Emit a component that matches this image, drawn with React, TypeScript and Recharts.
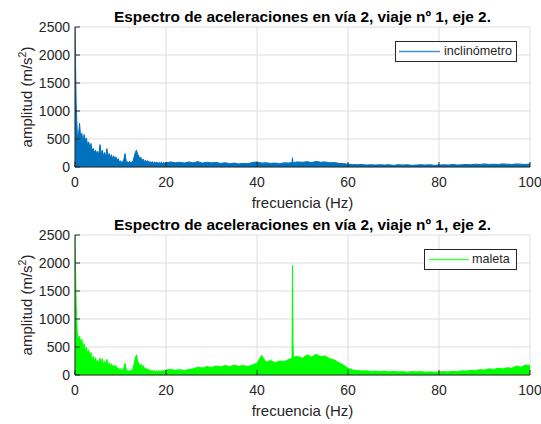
import React from 'react';
import { ComposedChart, Area, XAxis, YAxis, CartesianGrid, Label } from 'recharts';

const FONT = '"Liberation Sans", Arial, Helvetica, sans-serif';
const AXIS = '#262626';
const GRID = '#dedede';
const BLUE = '#0072BD';
const GREEN = '#00FF00';

const titleText = 'Espectro de aceleraciones en vía 2, viaje nº 1, eje 2.';
const xLabelText = 'frecuencia (Hz)';
const yLabelText = 'amplitud (m/s';
const yLabelSup = '2';
const xTicks = [0, 20, 40, 60, 80, 100];
const yTicks = [0, 500, 1000, 1500, 2000, 2500];

const freq = [
  0, 0.25, 0.5, 0.75, 1, 1.25, 1.5, 1.75, 2, 2.25,
  2.5, 2.75, 3, 3.25, 3.5, 3.75, 4, 4.25, 4.5, 4.75,
  5, 5.25, 5.5, 5.75, 6, 6.25, 6.5, 6.75, 7, 7.25,
  7.5, 7.75, 8, 8.25, 8.5, 8.75, 9, 9.25, 9.5, 9.75,
  10, 10.25, 10.5, 10.75, 11, 11.25, 11.5, 11.75, 12, 12.25,
  12.5, 12.75, 13, 13.25, 13.5, 13.75, 14, 14.25, 14.5, 14.75,
  15, 15.25, 15.5, 15.75, 16, 16.25, 16.5, 16.75, 17, 17.25,
  17.5, 17.75, 18, 18.25, 18.5, 18.75, 19, 19.25, 19.5, 19.75,
  20,
  21, 22, 23, 24, 25, 26, 27, 28, 29, 30,
  31, 32, 33, 34, 35, 36, 37, 38, 39, 40,
  41, 42, 43, 44, 45, 46, 47,
  47.7, 47.8, 47.9, 48,
  49, 50, 51, 52, 53, 54, 55, 56, 57, 58,
  59, 60, 61, 62, 63, 64, 65, 66, 67, 68,
  69, 70, 71, 72, 73, 74, 75, 76, 77, 78,
  79, 80, 81, 82, 83, 84, 85, 86, 87, 88,
  89, 90, 91, 92, 93, 94, 95, 96, 97, 98,
  99, 100,
];

const inclinometro = [
  2500, 1150, 600, 560, 780, 520, 600, 450, 580, 480,
  520, 400, 450, 350, 420, 300, 330, 260, 300, 240,
  280, 220, 400, 230, 300, 200, 260, 180, 330, 190,
  240, 170, 220, 150, 200, 140, 180, 120, 150, 90,
  110, 80, 100, 140, 240, 110, 90, 80, 100, 70,
  90, 110, 180, 260, 300, 230, 200, 150, 170, 120,
  140, 100, 120, 90, 110, 80, 100, 75, 95, 70,
  90, 70, 85, 65, 80, 70, 85, 65, 80, 70,
  75,
  90, 75, 85, 70, 90, 75, 95, 70, 85, 75,
  80, 65, 75, 60, 70, 55, 65, 60, 80, 90,
  70, 75, 65, 70, 60, 75, 70,
  80, 165, 90, 80,
  90, 85, 95, 80, 100, 85, 90, 75, 80, 65,
  60, 50, 45, 40, 45, 35, 40, 35, 40, 35,
  40, 30, 40, 35, 40, 30, 35, 40, 35, 40,
  30, 35, 40, 35, 45, 35, 40, 45, 40, 50,
  45, 55, 45, 50, 45, 55, 50, 45, 55, 50,
  45, 55,
];

const maleta = [
  2500, 1250, 750, 620, 700, 560, 640, 480, 560, 430,
  500, 380, 450, 330, 400, 290, 330, 250, 310, 220,
  260, 200, 300, 210, 290, 190, 250, 180, 280, 170,
  220, 150, 200, 140, 180, 120, 170, 110, 130, 90,
  110, 80, 100, 130, 210, 100, 80, 70, 90, 70,
  90, 120, 200, 300, 360, 250, 220, 160, 190, 130,
  170, 110, 130, 90, 110, 75, 90, 70, 85, 65,
  80, 65, 75, 60, 75, 60, 80, 65, 85, 70,
  90,
  100, 85, 95, 80, 100, 110, 140, 125, 150, 135,
  160, 145, 170, 150, 175, 155, 170, 150, 180, 210,
  350, 230, 260, 220, 250, 240, 280,
  300, 1960, 600, 320,
  330, 300, 360, 320, 370, 330, 340, 290, 270, 220,
  180, 120, 90, 80, 70, 75, 65, 70, 60, 70,
  55, 65, 55, 60, 50, 60, 55, 60, 50, 55,
  50, 55, 60, 55, 65, 60, 75, 70, 85, 80,
  95, 90, 110, 100, 120, 110, 130, 120, 160, 140,
  180, 170,
];

const data = freq.map((f, i) => ({ f, inclinometro: inclinometro[i], maleta: maleta[i] }));

const XLabel = (props: any) => {
  const vb = props.viewBox || { x: 75, y: 167, width: 455, height: 30 };
  return (
    <text x={vb.x + vb.width / 2} y={vb.y + 41} textAnchor="middle" fill={AXIS} fontSize={15} fontFamily={FONT}>
      {xLabelText}
    </text>
  );
};

const YLabel = (props: any) => {
  const vb = props.viewBox || { x: 15, y: 27, width: 60, height: 140 };
  const cy = vb.y + vb.height / 2;
  const cx = 32;
  return (
    <text x={cx} y={cy} transform={`rotate(-90, ${cx}, ${cy})`} textAnchor="middle" fill={AXIS} fontSize={15} fontFamily={FONT}>
      {yLabelText}
      <tspan dy={-6} fontSize={10.5}>{yLabelSup}</tspan>
      <tspan dy={6}>)</tspan>
    </text>
  );
};

const tickStyle = { fill: AXIS, fontSize: 14, fontFamily: FONT };

function Panel({ dataKey, color, top }: { dataKey: string; color: string; top: number }) {
  return (
    <div style={{ position: 'absolute', left: 0, top, width: 541, height: 212 }}>
      <ComposedChart width={541} height={212} data={data} margin={{ top: 27, right: 11, bottom: 15, left: 15 }}>
        <CartesianGrid stroke={GRID} strokeWidth={1} />
        <Area
          type="linear"
          dataKey={dataKey}
          stroke={color}
          strokeWidth={1}
          fill={color}
          fillOpacity={1}
          dot={false}
          activeDot={false}
          isAnimationActive={false}
        />
        <XAxis
          dataKey="f"
          type="number"
          domain={[0, 100]}
          ticks={xTicks}
          interval={0}
          allowDataOverflow
          height={30}
          stroke={AXIS}
          tickSize={-5}
          tickMargin={15}
          tick={tickStyle}
        >
          <Label content={XLabel} />
        </XAxis>
        <XAxis
          xAxisId="t"
          orientation="top"
          type="number"
          domain={[0, 100]}
          ticks={xTicks}
          interval={0}
          height={0}
          stroke={AXIS}
          tickSize={-5}
          tick={false}
        />
        <YAxis
          type="number"
          domain={[0, 2500]}
          ticks={yTicks}
          interval={0}
          allowDataOverflow
          width={60}
          stroke={AXIS}
          tickSize={-5}
          tickMargin={10}
          tick={tickStyle}
        >
          <Label content={YLabel} />
        </YAxis>
        <YAxis
          yAxisId="r"
          orientation="right"
          type="number"
          domain={[0, 2500]}
          ticks={yTicks}
          interval={0}
          width={0}
          stroke={AXIS}
          tickSize={-5}
          tick={false}
        />
      </ComposedChart>
    </div>
  );
}

function LegendBox({ left, top, width, lineStart, lineEnd, textLeft, color, label }: any) {
  return (
    <div
      style={{
        position: 'absolute',
        left,
        top,
        width,
        height: 21,
        boxSizing: 'border-box',
        border: `1px solid ${AXIS}`,
        background: '#fff',
      }}
    >
      <svg width={width - 2} height={19} style={{ position: 'absolute', left: 0, top: 0 }}>
        <line x1={lineStart} x2={lineEnd} y1={9.5} y2={9.5} stroke={color} strokeWidth={1.3} strokeOpacity={0.75} />
      </svg>
      <span
        style={{
          position: 'absolute',
          left: textLeft,
          top: 0,
          lineHeight: '19px',
          fontSize: 12.6,
          fontFamily: FONT,
          color: AXIS,
          whiteSpace: 'nowrap',
        }}
      >
        {label}
      </span>
    </div>
  );
}

export default function App() {
  return (
    <div style={{ position: 'absolute', left: 0, top: 0, width: 541, height: 424, background: '#fff', overflow: 'hidden' }}>
      <Panel dataKey="inclinometro" color={BLUE} top={0} />
      <Panel dataKey="maleta" color={GREEN} top={208} />
      <svg width={541} height={424} style={{ position: 'absolute', left: 0, top: 0, pointerEvents: 'none' }}>
        <text x={302.5} y={22} textAnchor="middle" fill="#000" fontSize={15.4} fontWeight="bold" fontFamily={FONT}>
          {titleText}
        </text>
        <text x={302.5} y={230} textAnchor="middle" fill="#000" fontSize={15.4} fontWeight="bold" fontFamily={FONT}>
          {titleText}
        </text>
      </svg>
      <LegendBox left={395} top={41} width={122} lineStart={3} lineEnd={44} textLeft={48} color={BLUE} label="inclinómetro" />
      <LegendBox left={424} top={249} width={93} lineStart={4} lineEnd={44} textLeft={47} color={GREEN} label="maleta" />
    </div>
  );
}
